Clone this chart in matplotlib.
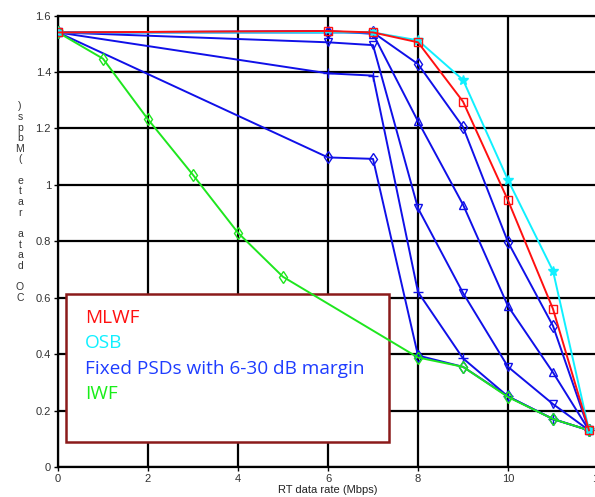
import numpy as np
import matplotlib.pyplot as plt
from matplotlib.patches import Rectangle

# data
x_mlwf = [0, 6, 7, 8, 9, 10, 11, 11.8]
y_mlwf = [1.54, 1.545, 1.54, 1.505, 1.295, 0.945, 0.56, 0.13]

x_osb = [0, 7, 8, 9, 10, 11, 11.8]
y_osb = [1.54, 1.54, 1.512, 1.372, 1.017, 0.695, 0.13]

x_fix = [0, 6, 7, 8, 9, 10, 11, 11.8]
y_fix_tri_up = [1.54, 1.545, 1.535, 1.225, 0.93, 0.57, 0.335, 0.13]
y_fix_diam = [1.54, 1.54, 1.54, 1.428, 1.205, 0.797, 0.50, 0.13]
y_fix_tri_dn = [1.54, 1.505, 1.495, 0.917, 0.617, 0.355, 0.223, 0.13]
y_fix_plus = [1.54, 1.395, 1.387, 0.62, 0.385, 0.25, 0.17, 0.13]
y_fix_low = [1.54, 1.097, 1.092, 0.395, 0.355, 0.25, 0.17, 0.13]

x_iwf = [0, 1, 2, 3, 4, 5, 8, 9, 10, 11, 11.8]
y_iwf = [1.54, 1.447, 1.232, 1.035, 0.83, 0.674, 0.388, 0.355, 0.248, 0.17, 0.13]

legend_labels = ['MLWF', 'OSB', 'Fixed PSDs with 6-30 dB margin', 'IWF']
legend_colors = ['#ff1010', '#10f0ff', '#1e3cff', '#18ee18']

fig = plt.figure(figsize=(5.95, 4.97), dpi=100)
ax = fig.add_axes([58/595, 30/497, 540/595, 451.5/497])

blue = '#1010e8'
ms = 6
ax.plot(x_fix, y_fix_low, color=blue, lw=1.4, marker='d', ms=ms, mfc='none', zorder=4)
ax.plot(x_fix, y_fix_plus, color=blue, lw=1.4, marker='+', ms=ms+1, zorder=4)
ax.plot(x_fix, y_fix_tri_dn, color=blue, lw=1.4, marker='v', ms=ms, mfc='none', zorder=4)
ax.plot(x_fix, y_fix_diam, color=blue, lw=1.4, marker='d', ms=ms, mfc='none', zorder=4)
ax.plot(x_fix, y_fix_tri_up, color=blue, lw=1.4, marker='^', ms=ms, mfc='none', zorder=4)
ax.plot(x_iwf, y_iwf, color='#1ee61e', lw=1.4, marker='d', ms=ms, mfc='none', zorder=5)
ax.plot(x_osb, y_osb, color='#10f0ff', lw=1.4, marker='*', ms=ms+1, zorder=5)
ax.plot(x_mlwf, y_mlwf, color='#ff1010', lw=1.4, marker='s', ms=ms, mfc='none', zorder=5)

ax.set_xlim(0, 12)
ax.set_ylim(0, 1.6)
ax.set_xticks([0, 2, 4, 6, 8, 10, 12])
ax.set_xticklabels(['0', '2', '4', '6', '8', '10', '12'])
ax.set_yticks([0, 0.2, 0.4, 0.6, 0.8, 1, 1.2, 1.4, 1.6])
ax.set_yticklabels(['0', '0.2', '0.4', '0.6', '0.8', '1', '1.2', '1.4', '1.6'])
ax.grid(True, color='black', lw=1.6, zorder=1)
ax.set_axisbelow(True)
for s in ax.spines.values():
    s.set_linewidth(1.6)
ax.tick_params(direction='out', length=3, width=1, labelsize=8, labelcolor='#333333',
               pad=2)
for lbl in ax.get_xticklabels() + ax.get_yticklabels():
    lbl.set_family('Liberation Sans')

ax.set_xlabel('RT data rate (Mbps)', fontsize=8, family='Liberation Sans',
              color='#222222', labelpad=1)

ylab = ')spbM( etar atad OC'
fig.text(20/595, 1 - 202/497, '\n'.join(ylab), fontsize=7.5, family='Liberation Sans',
         color='#333333', ha='center', va='center', linespacing=1.08)

# legend box drawn by hand
box = Rectangle((66/595, 1 - 442/497), (389-66)/595, (442-294)/497,
                transform=fig.transFigure, facecolor='white', edgecolor='#8b1a1a',
                lw=1.8, zorder=3)
ax.add_patch(box)
for i, (lab, col) in enumerate(zip(legend_labels, legend_colors)):
    ax.text(85/595, 1 - (318 + 25.3*i)/497, lab, transform=fig.transFigure,
            color=col, fontsize=13.7, family='Open Sans', va='center', ha='left',
            zorder=3.5)

fig.savefig('out.png', dpi=100)
